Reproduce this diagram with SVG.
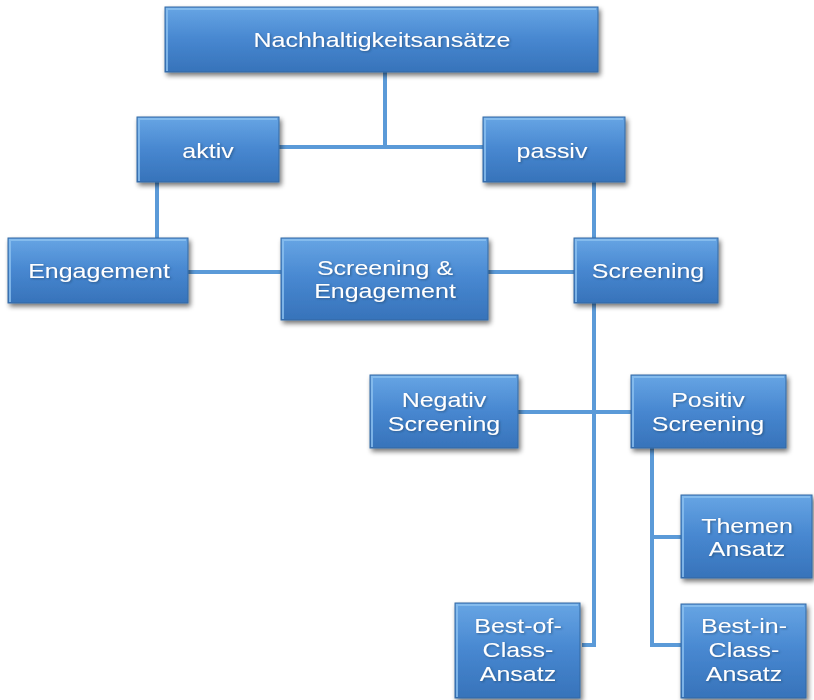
<svg xmlns="http://www.w3.org/2000/svg" width="814" height="700" viewBox="0 0 814 700">
<defs>
<linearGradient id="g" x1="0" y1="0" x2="0" y2="1">
<stop offset="0" stop-color="#67a5e4"/>
<stop offset="0.5" stop-color="#4787d0"/>
<stop offset="1" stop-color="#3773ba"/>
</linearGradient>
<filter id="sh" x="-10%" y="-10%" width="125%" height="135%">
<feGaussianBlur in="SourceAlpha" stdDeviation="2.5"/>
<feOffset dx="2" dy="3" result="b"/>
<feComponentTransfer><feFuncA type="linear" slope="0.55"/></feComponentTransfer>
<feMerge><feMergeNode/><feMergeNode in="SourceGraphic"/></feMerge>
</filter>
<filter id="ts"><feDropShadow dx="1" dy="1" stdDeviation="0.8" flood-color="#1e3f66" flood-opacity="0.6"/></filter>
</defs>
<style>
.box{fill:url(#g);stroke:#3569a3;stroke-width:1;filter:url(#sh)}
.bev{fill:none;stroke:#8cc0ef;stroke-width:2;opacity:0.8}
.t{font-family:"Liberation Sans",Arial,sans-serif;font-size:21px;fill:#fff;text-anchor:middle;filter:url(#ts)}
.c{stroke:#5b9ad8;stroke-width:4;fill:none}
</style>
<g id="connectors">
<path class="c" d="M385 72 V147 M279 147 H483"/>
<path class="c" d="M157 182 V238 M594 182 V238"/>
<path class="c" d="M188 272 H281 M488 272 H574"/>
<path class="c" d="M594 303 V645 H582"/>
<path class="c" d="M518 412 H631"/>
<path class="c" d="M652 448 V645 H681 M652 537 H681"/>
</g>
<g id="n1"><rect class="box" x="165" y="7" width="433" height="65"/><path class="bev" d="M167 71 V9 H596"/><text class="t" transform="translate(382 47) scale(1.19 1)">Nachhaltigkeitsansätze</text></g>
<g id="n2"><rect class="box" x="137" y="117" width="142" height="65"/><path class="bev" d="M139 181 V119 H277"/><text class="t" transform="translate(208 158) scale(1.19 1)">aktiv</text></g>
<g id="n3"><rect class="box" x="483" y="117" width="142" height="65"/><path class="bev" d="M485 181 V119 H623"/><text class="t" transform="translate(552 158) scale(1.19 1)">passiv</text></g>
<g id="n4"><rect class="box" x="8" y="238" width="180" height="65"/><path class="bev" d="M10 302 V240 H186"/><text class="t" transform="translate(99 278) scale(1.19 1)">Engagement</text></g>
<g id="n5"><rect class="box" x="281" y="238" width="207" height="82"/><path class="bev" d="M283 319 V240 H486"/><text class="t" transform="translate(385 275) scale(1.19 1)">Screening &amp;</text><text class="t" transform="translate(385 298) scale(1.19 1)">Engagement</text></g>
<g id="n6"><rect class="box" x="574" y="238" width="144" height="65"/><path class="bev" d="M576 302 V240 H716"/><text class="t" transform="translate(648 278) scale(1.19 1)">Screening</text></g>
<g id="n7"><rect class="box" x="370" y="375" width="148" height="73"/><path class="bev" d="M372 447 V377 H516"/><text class="t" transform="translate(444 407) scale(1.19 1)">Negativ</text><text class="t" transform="translate(444 431) scale(1.19 1)">Screening</text></g>
<g id="n8"><rect class="box" x="631" y="375" width="155" height="73"/><path class="bev" d="M633 447 V377 H784"/><text class="t" transform="translate(708 407) scale(1.19 1)">Positiv</text><text class="t" transform="translate(708 431) scale(1.19 1)">Screening</text></g>
<g id="n9"><rect class="box" x="681" y="495" width="131" height="83"/><path class="bev" d="M683 577 V497 H810"/><text class="t" transform="translate(747 533) scale(1.19 1)">Themen</text><text class="t" transform="translate(747 556) scale(1.19 1)">Ansatz</text></g>
<g id="n10"><rect class="box" x="455" y="603" width="125" height="95"/><path class="bev" d="M457 697 V605 H578"/><text class="t" transform="translate(518 633) scale(1.19 1)">Best-of-</text><text class="t" transform="translate(518 657) scale(1.19 1)">Class-</text><text class="t" transform="translate(518 681) scale(1.19 1)">Ansatz</text></g>
<g id="n11"><rect class="box" x="681" y="604" width="125" height="94"/><path class="bev" d="M683 697 V606 H804"/><text class="t" transform="translate(744 633) scale(1.19 1)">Best-in-</text><text class="t" transform="translate(744 657) scale(1.19 1)">Class-</text><text class="t" transform="translate(744 681) scale(1.19 1)">Ansatz</text></g>
</svg>
